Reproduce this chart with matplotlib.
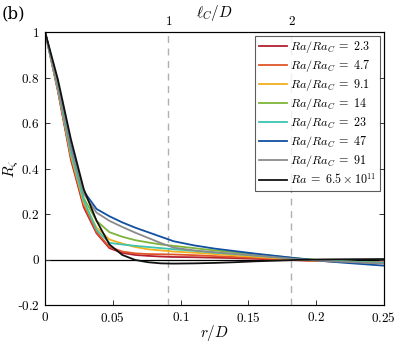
import matplotlib
matplotlib.use('Agg')
import matplotlib.pyplot as plt
from matplotlib.ticker import FuncFormatter

plt.rcParams['mathtext.fontset'] = 'cm'
plt.rcParams['font.family'] = 'serif'
plt.rcParams['font.serif'] = ['DejaVu Serif']

# radial positions r/D
r = [0, 0.0095, 0.019, 0.0285, 0.038, 0.0475, 0.057, 0.0665, 0.076, 0.0855,
     0.095, 0.11, 0.125, 0.14, 0.155, 0.17, 0.185, 0.2, 0.22, 0.25]

ra_23 = [1, 0.74, 0.44, 0.23, 0.115, 0.05, 0.029, 0.02, 0.016, 0.013,
         0.011, 0.01, 0.008, 0.006, 0.003, 0.0, -0.003, -0.006, -0.009, -0.013]
ra_47 = [1, 0.74, 0.45, 0.24, 0.12, 0.055, 0.035, 0.027, 0.024, 0.023,
         0.022, 0.019, 0.015, 0.011, 0.007, 0.003, -0.002, -0.006, -0.01, -0.015]
ra_91 = [1, 0.75, 0.46, 0.25, 0.14, 0.088, 0.07, 0.055, 0.045, 0.04,
         0.035, 0.03, 0.024, 0.018, 0.012, 0.006, 0.0, -0.005, -0.01, -0.016]
ra_14 = [1, 0.76, 0.48, 0.27, 0.17, 0.12, 0.1, 0.085, 0.075, 0.066,
         0.06, 0.05, 0.04, 0.032, 0.023, 0.015, 0.006, -0.002, -0.008, -0.015]
ra_23b = [1, 0.75, 0.47, 0.26, 0.13, 0.073, 0.066, 0.06, 0.055, 0.05,
          0.045, 0.038, 0.03, 0.024, 0.017, 0.01, 0.004, -0.002, -0.008, -0.015]
ra_47b = [1, 0.77, 0.5, 0.3, 0.222, 0.19, 0.163, 0.14, 0.12, 0.1,
          0.08, 0.062, 0.048, 0.037, 0.026, 0.016, 0.006, -0.004, -0.014, -0.027]
ra_91b = [1, 0.76, 0.49, 0.29, 0.206, 0.17, 0.143, 0.118, 0.095, 0.072,
          0.052, 0.04, 0.032, 0.025, 0.018, 0.01, 0.002, -0.004, -0.01, -0.018]
ra_abs = [1, 0.79, 0.53, 0.31, 0.17, 0.066, 0.02, -0.002, -0.012, -0.017,
          -0.018, -0.017, -0.015, -0.012, -0.008, -0.005, -0.002, 0.0, 0.001, 0.002]

series = [ra_23, ra_47, ra_91, ra_14, ra_23b, ra_47b, ra_91b, ra_abs]
labels = [r'$Ra/Ra_C\;=\;2.3$', r'$Ra/Ra_C\;=\;4.7$', r'$Ra/Ra_C\;=\;9.1$',
          r'$Ra/Ra_C\;=\;14$', r'$Ra/Ra_C\;=\;23$', r'$Ra/Ra_C\;=\;47$',
          r'$Ra/Ra_C\;=\;91$', r'$Ra\;=\;6.5\times10^{11}$']
colors = ['#B5202E', '#E0562A', '#F2B01E', '#7DB43A', '#3CC4AE',
          '#114FA0', '#8A8A8A', '#111111']

lc_ticks = [1 / 11, 2 / 11]
lc_labels = ['1', '2']


def tick_fmt(v, p):
    s = '%g' % abs(v)
    return ('-' if v < 0 else '') + '$%s$' % s


fig = plt.figure(figsize=(3.99, 3.46), dpi=100)
ax = fig.add_axes([0.113, 0.1185, 0.849, 0.789])

ax.axhline(0, color='black', linewidth=0.9, zorder=1)
for xv in lc_ticks:
    ax.axvline(xv, color='#B0B0B0', linestyle=(0, (5, 4)), linewidth=1.0, zorder=1)

for y, c, lab in zip(series, colors, labels):
    ax.plot(r, y, color=c, linewidth=1.3, label=lab, zorder=2)

ax.set_xlim(0, 0.25)
ax.set_ylim(-0.2, 1)
ax.set_xticks([0, 0.05, 0.1, 0.15, 0.2, 0.25])
ax.set_yticks([-0.2, 0, 0.2, 0.4, 0.6, 0.8, 1])
ax.xaxis.set_major_formatter(FuncFormatter(tick_fmt))
ax.yaxis.set_major_formatter(FuncFormatter(tick_fmt))
ax.tick_params(direction='in', top=True, right=True, labelsize=9.5, length=3.5,
               width=0.7, color='#333333', pad=4)
for s in ax.spines.values():
    s.set_linewidth(0.8)
    s.set_color('#333333')

ax.set_xlabel(r'$r/D$', fontsize=11)
ax.xaxis.set_label_coords(0.5, -0.065)
ax.set_ylabel(r'$R_\zeta$', fontsize=11)
ax.yaxis.set_label_coords(-0.07, 0.5)

top = ax.twiny()
top.set_xlim(ax.get_xlim())
top.set_xticks(lc_ticks)
top.set_xticklabels(['$%s$' % t for t in lc_labels])
top.tick_params(length=0, labelsize=9.5, pad=3)
top.set_xlabel(r'$\ell_C/D$', fontsize=11)
top.xaxis.set_label_coords(0.5, 1.055)

leg = ax.legend(loc='upper right', fontsize=8.7, frameon=True, fancybox=False,
                edgecolor='#333333', borderpad=0.3, labelspacing=0.25,
                handlelength=2.3, handletextpad=0.3, borderaxespad=0.3)
leg.get_frame().set_linewidth(0.8)

fig.text(0.003, 0.96, '(b)', fontsize=12, family='DejaVu Serif', va='center')

fig.savefig('out.png', dpi=100)
